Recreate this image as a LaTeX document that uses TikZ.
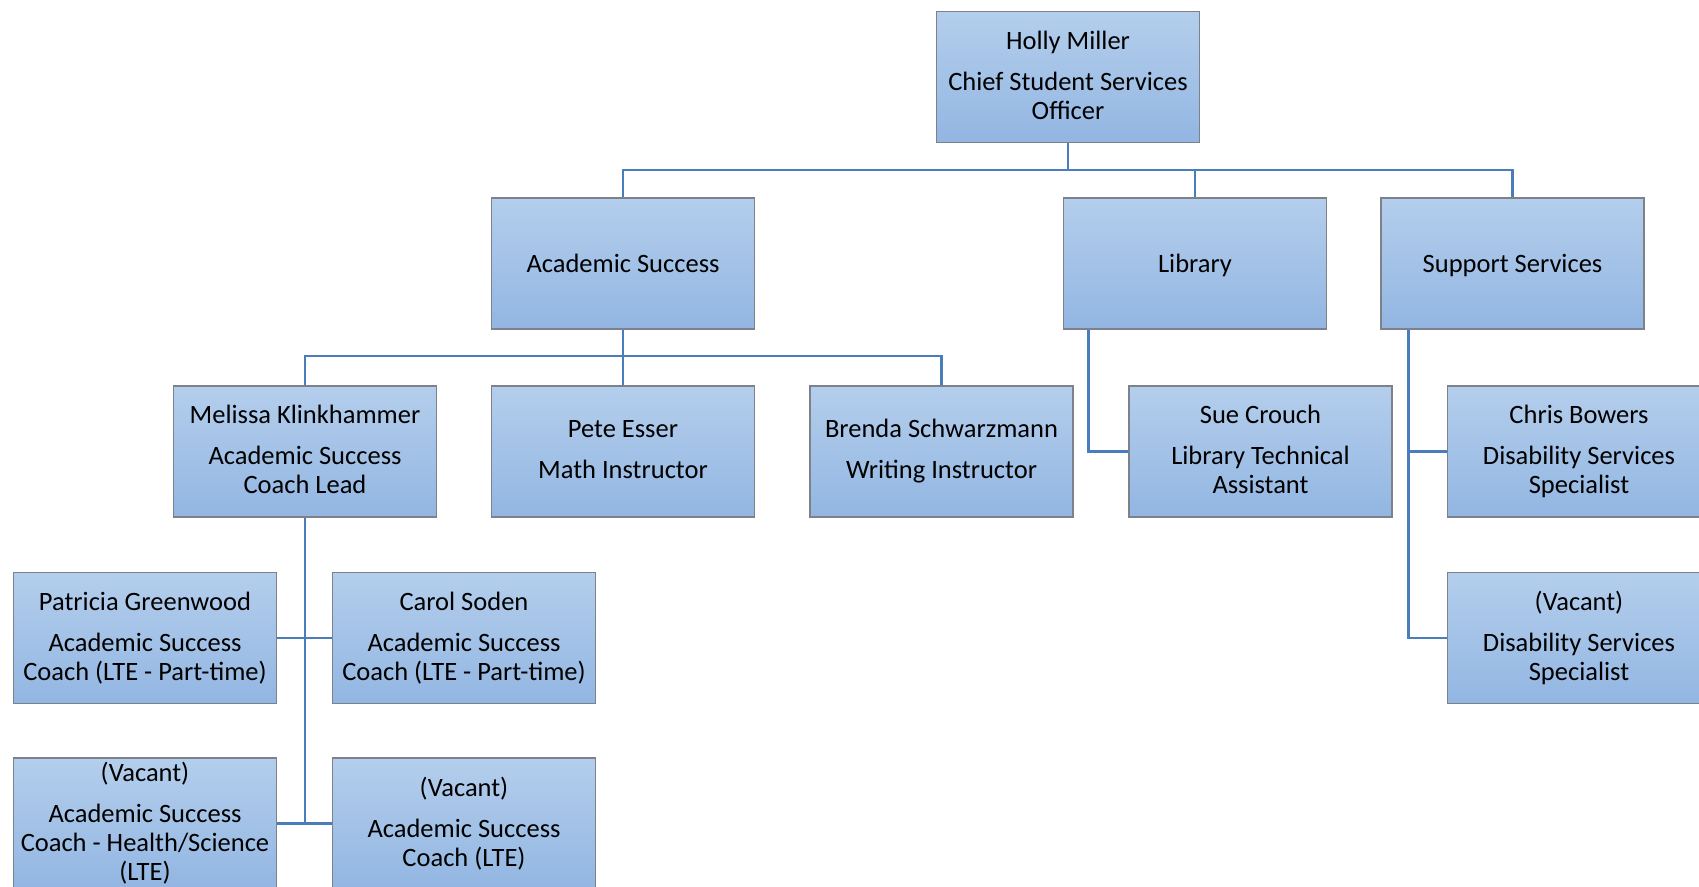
\documentclass[tikz,border=0pt]{standalone}
\usepackage{fontspec}
\setmainfont{Carlito}
\usetikzlibrary{calc}
\definecolor{boxtop}{RGB}{180,206,236}
\definecolor{boxbot}{RGB}{146,182,226}
\definecolor{boxrim}{RGB}{125,130,138}
\definecolor{conncol}{RGB}{74,126,187}
\newcommand\gp{12pt}
\newcommand\topstrut{\rule{0pt}{25pt}}
\newcommand\botstrut{\rule[-4pt]{0pt}{4pt}}
\newcommand\onestrut{\rule[-6.5pt]{0pt}{29pt}}
\tikzset{
  box/.style={rectangle, minimum width=263pt, minimum height=131pt, inner sep=0pt,
    top color=boxtop, bottom color=boxbot, draw=boxrim, line width=1.4pt,
    align=center, font=\fontsize{26.5}{29}\selectfont, text=black,
    execute at begin node=\topstrut, execute at end node=\botstrut},
  onebox/.style={box, execute at begin node=\onestrut, execute at end node={}},
  conn/.style={draw=conncol, line width=2.8pt}
}
\begin{document}
\begin{tikzpicture}[x=1pt,y=-1pt]
\useasboundingbox (0,0) rectangle (1699,886);
\clip (0,0) rectangle (1699,886);
% nodes
\node[box] (holly) at (1068,77) {Holly Miller\\[\gp]Chief Student Services\\Officer};
\node[onebox] (acad) at (623,263.5) {Academic Success};
\node[onebox] (lib) at (1195,263.5) {Library};
\node[onebox] (supp) at (1512.5,263.5) {Support Services};
\node[box] (mel) at (305,451.5) {Melissa Klinkhammer\\[\gp]Academic Success\\Coach Lead};
\node[box] (pete) at (623,451.5) {Pete Esser\\[\gp]Math Instructor};
\node[box] (bre) at (941.5,451.5) {Brenda Schwarzmann\\[\gp]Writing Instructor};
\node[box] (sue) at (1260.5,451.5) {Sue Crouch\\[\gp]Library Technical\\Assistant};
\node[box] (ds1) at (1579,451.5) {Chris Bowers\\[\gp]Disability Services\\Specialist};
\node[box] (pat) at (145,638) {Patricia Greenwood\\[\gp]Academic Success\\Coach (LTE - Part-time)};
\node[box] (carol) at (464,638) {Carol Soden\\[\gp]Academic Success\\Coach (LTE - Part-time)};
\node[box] (ds2) at (1579,638) {(Vacant)\\[\gp]Disability Services\\Specialist};
\node[box] (vh) at (145,823.5) {(Vacant)\\[\gp]Academic Success\\Coach - Health/Science\\(LTE)};
\node[box] (vc) at (464,823.5) {(Vacant)\\[\gp]Academic Success\\Coach (LTE)};
% connectors
\draw[conn] (holly.south) -- (holly.south |- 0,170);
\draw[conn] (acad.north) |- (supp.north |- 0,170) -- (supp.north);
\draw[conn] (lib.north) -- (lib.north |- 0,170);
\draw[conn] (acad.south) -- (acad.south |- 0,356);
\draw[conn] (mel.north) |- (bre.north |- 0,356) -- (bre.north);
\draw[conn] (pete.north) -- (pete.north |- 0,356);
\coordinate (libtrunk) at ($(lib.south west)+(26,0)$);
\draw[conn] (libtrunk) |- (sue.west);
\coordinate (supptrunk) at ($(supp.south west)+(28,0)$);
\draw[conn] (supptrunk) |- (ds2.west);
\draw[conn] (ds1.west) -- (ds1.west -| supptrunk);
\draw[conn] (mel.south) -- (mel.south |- vc.west);
\draw[conn] (pat.east) -- (carol.west);
\draw[conn] (vh.east) -- (vc.west);
\end{tikzpicture}
\end{document}
